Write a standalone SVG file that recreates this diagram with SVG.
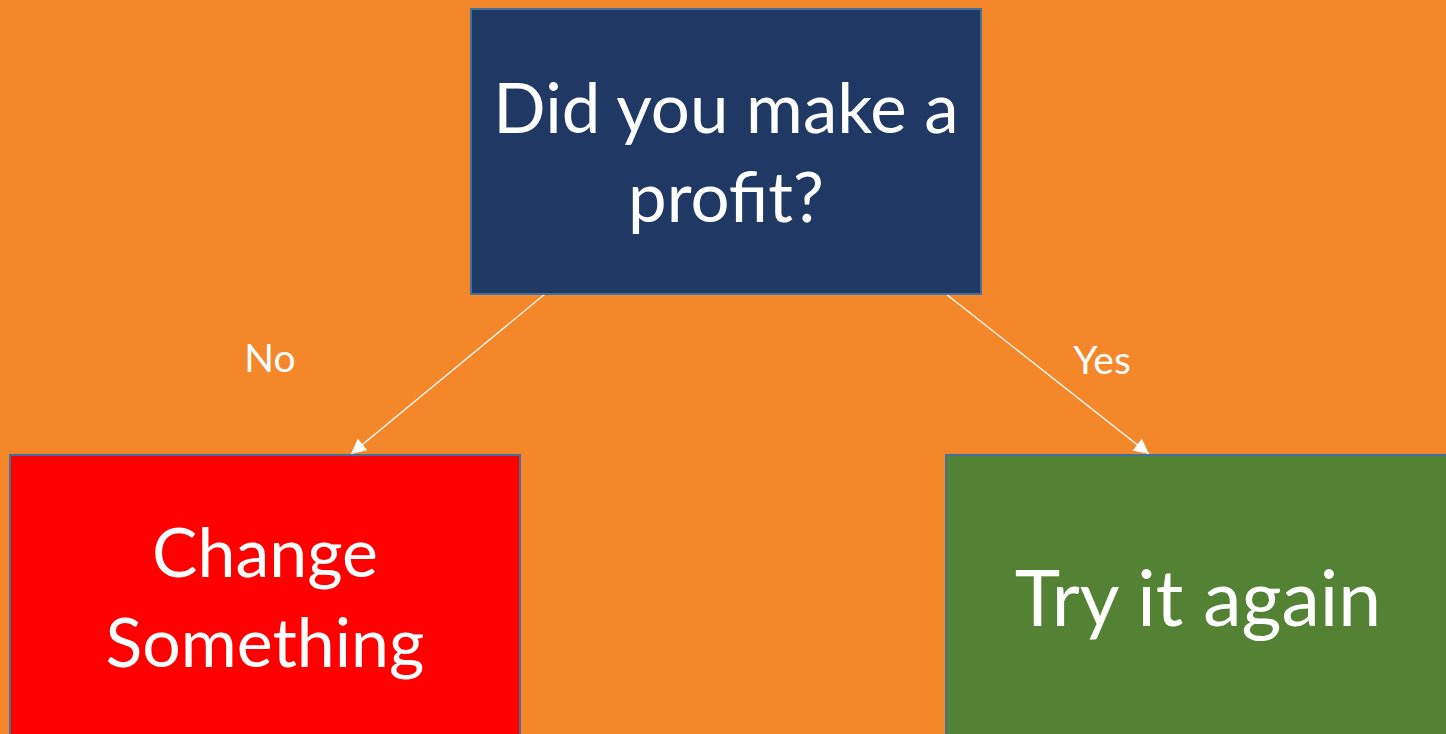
<svg xmlns="http://www.w3.org/2000/svg" width="1446" height="734" viewBox="0 0 1446 734">
  <style>
    .box { stroke: #41719C; stroke-width: 2; }
    .big { font-family: Lato, "Open Sans", sans-serif; fill: #FFFFFF; text-anchor: middle; }
    .lbl { font-family: Lato, "Open Sans", sans-serif; fill: #FFFFFF; font-size: 39px; text-anchor: middle; }
    .conn { stroke: #FFFFFF; stroke-width: 1.3; fill: none; marker-end: url(#arrow); }
  </style>
  <defs>
    <marker id="arrow" viewBox="0 0 10 10" refX="10" refY="5" markerWidth="16" markerHeight="15" markerUnits="userSpaceOnUse" orient="auto">
      <path d="M0,0 L10,5 L0,10 Z" fill="#FFFFFF"/>
    </marker>
  </defs>

  <rect width="1446" height="734" fill="#F5872B"/>

  <g id="connectors">
    <line class="conn" x1="545" y1="294" x2="351" y2="454"/>
    <line class="conn" x1="946" y1="294" x2="1149" y2="454"/>
    <text class="lbl" x="270" y="372">No</text>
    <text class="lbl" x="1102" y="374">Yes</text>
  </g>

  <g id="question">
    <rect class="box" x="471" y="9" width="510" height="285" fill="#203864"/>
    <text class="big" font-size="69" x="726" y="133">Did you make a</text>
    <text class="big" font-size="69" x="726" y="222">profit?</text>
  </g>

  <g id="change">
    <rect class="box" x="10" y="455" width="510" height="300" fill="#FF0000"/>
    <text class="big" font-size="68" x="265" y="577">Change</text>
    <text class="big" font-size="68" x="265" y="667">Something</text>
  </g>

  <g id="retry">
    <rect class="box" x="946" y="455" width="520" height="300" fill="#548235"/>
    <text class="big" font-size="77" x="1198" y="626">Try it again</text>
  </g>
</svg>
